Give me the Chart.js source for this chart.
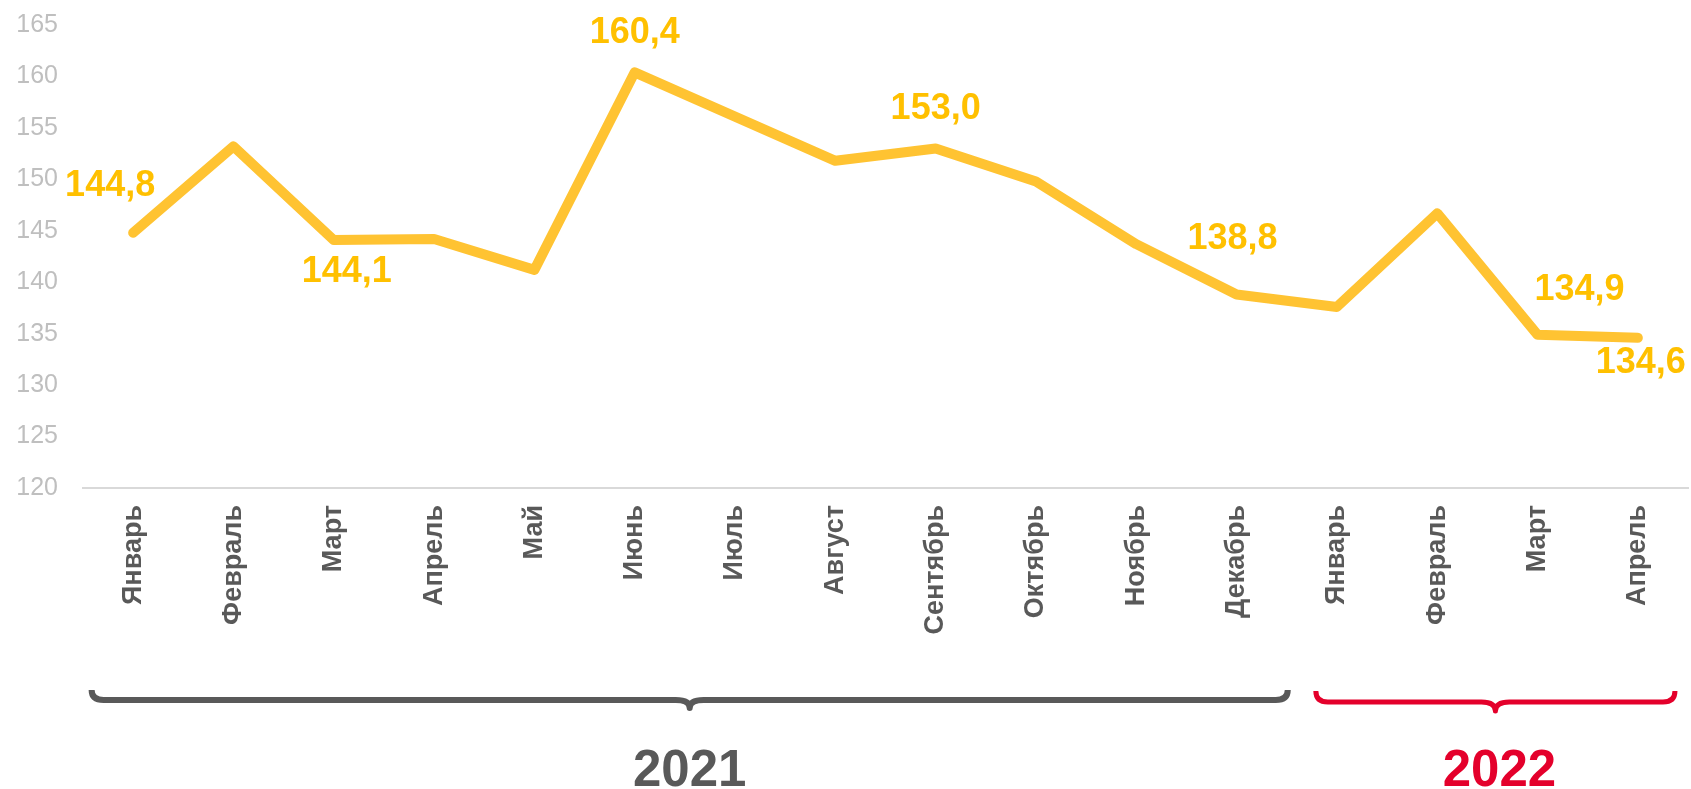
<!DOCTYPE html>
<html>
<head>
<meta charset="utf-8">
<script src="https://cdn.jsdelivr.net/npm/chart.js@4.4.1/dist/chart.umd.min.js"></script>
<style>
  html, body { margin: 0; padding: 0; background: #ffffff; }
  #wrap { width: 1691px; height: 789px; }
</style>
</head>
<body>
<div id="wrap"><canvas id="c" width="1691" height="789"></canvas></div>
<script>
// ---- data ----
const months = ['Январь','Февраль','Март','Апрель','Май','Июнь','Июль','Август','Сентябрь','Октябрь','Ноябрь','Декабрь','Январь','Февраль','Март','Апрель'];
const values = [144.8, 153.2, 144.1, 144.2, 141.2, 160.4, 156.1, 151.8, 153.0, 149.8, 143.7, 138.8, 137.6, 146.7, 134.9, 134.6];
const labeledIdx = [0, 2, 5, 8, 11, 14, 15];
const years = ['2021', '2022'];
const yearFirstIdx = [0, 12];
const yearLastIdx = [11, 15];
const yTicks = [120, 125, 130, 135, 140, 145, 150, 155, 160, 165];

// ---- styling (not data) ----
const labelOffsets = { 0: [-23, -47], 2: [13, 32], 5: [0, -39], 8: [0, -39], 11: [-4, -55], 14: [42, -45], 15: [3, 25] };
const yearStyles = [
  { color: '#595959', width: 6, padL: 0.414, padR: 0.51, yTop: 202, yLine: 212, yTip: 220, textX: 0 },
  { color: '#E4002B', width: 5, padL: 0.21, padR: 0.37, yTop: 203, yLine: 214, yTip: 223, textX: 4 }
];

const fmt = v => v.toFixed(1).replace('.', ',');

const valueLabels = {
  id: 'valueLabels',
  afterDatasetsDraw(chart) {
    const ctx = chart.ctx;
    const meta = chart.getDatasetMeta(0);
    ctx.save();
    ctx.font = 'bold 36px "Liberation Sans", Arial, sans-serif';
    ctx.fillStyle = '#FFC000';
    ctx.textAlign = 'center';
    ctx.textBaseline = 'middle';
    labeledIdx.forEach(i => {
      const p = meta.data[i];
      const off = labelOffsets[i] || [0, -40];
      ctx.fillText(fmt(values[i]), p.x + off[0], p.y + off[1]);
    });
    ctx.restore();
  }
};

function brace(ctx, x1, x2, xm, yTop, yLine, yTip, r, r2) {
  ctx.beginPath();
  ctx.moveTo(x1, yTop);
  ctx.quadraticCurveTo(x1, yLine, x1 + r, yLine);
  ctx.lineTo(xm - r2, yLine);
  ctx.quadraticCurveTo(xm, yLine, xm, yTip);
  ctx.quadraticCurveTo(xm, yLine, xm + r2, yLine);
  ctx.lineTo(x2 - r, yLine);
  ctx.quadraticCurveTo(x2, yLine, x2, yTop);
  ctx.stroke();
}

const yearBraces = {
  id: 'yearBraces',
  afterDraw(chart) {
    const ctx = chart.ctx;
    const xs = chart.scales.x;
    const base = chart.chartArea.bottom;
    const step = xs.getPixelForValue(1) - xs.getPixelForValue(0);
    ctx.save();
    years.forEach((yr, k) => {
      const st = yearStyles[k];
      const x1 = xs.getPixelForValue(yearFirstIdx[k]) - st.padL * step;
      const x2 = xs.getPixelForValue(yearLastIdx[k]) + st.padR * step;
      const xm = (x1 + x2) / 2;
      ctx.strokeStyle = st.color;
      ctx.lineWidth = st.width;
      ctx.lineCap = 'butt';
      ctx.lineJoin = 'round';
      brace(ctx, x1, x2, xm, base + st.yTop, base + st.yLine, base + st.yTip, 12, 14);
      ctx.fillStyle = st.color;
      ctx.font = 'bold 51px "Liberation Sans", Arial, sans-serif';
      ctx.textAlign = 'center';
      ctx.textBaseline = 'alphabetic';
      ctx.fillText(yr, xm + st.textX, base + 298);
    });
    ctx.restore();
  }
};

new Chart(document.getElementById('c'), {
  type: 'line',
  data: {
    labels: months,
    datasets: [{
      data: values,
      borderColor: '#FFC332',
      borderWidth: 10,
      borderCapStyle: 'round',
      borderJoinStyle: 'round',
      pointRadius: 0,
      pointHoverRadius: 0,
      tension: 0,
      fill: false,
      clip: false
    }]
  },
  options: {
    responsive: false,
    animation: false,
    devicePixelRatio: 1,
    layout: { padding: { top: 25, right: 3, left: 0, bottom: 0 } },
    plugins: { legend: { display: false }, tooltip: { enabled: false } },
    scales: {
      x: {
        offset: true,
        grid: { display: false, drawTicks: false },
        border: { display: true, color: '#D9D9D9', width: 2 },
        ticks: {
          autoSkip: false,
          maxRotation: 90,
          minRotation: 90,
          padding: 17,
          color: '#595959',
          font: { family: '"Liberation Sans", Arial, sans-serif', size: 27, weight: 'bold' }
        },
        afterFit(scale) { scale.height = 301; scale.paddingTop = 0; scale.paddingBottom = 0; }
      },
      y: {
        min: 120,
        max: 165,
        afterBuildTicks(scale) { scale.ticks = yTicks.map(v => ({ value: v })); },
        grid: { display: false, drawTicks: false },
        border: { display: false },
        ticks: {
          padding: 25,
          color: '#BFBFBF',
          font: { family: '"Liberation Sans", Arial, sans-serif', size: 25 }
        },
        afterFit(scale) { scale.width = 83; scale.paddingTop = 0; scale.paddingBottom = 0; }
      }
    }
  },
  plugins: [valueLabels, yearBraces]
});
</script>
</body>
</html>
